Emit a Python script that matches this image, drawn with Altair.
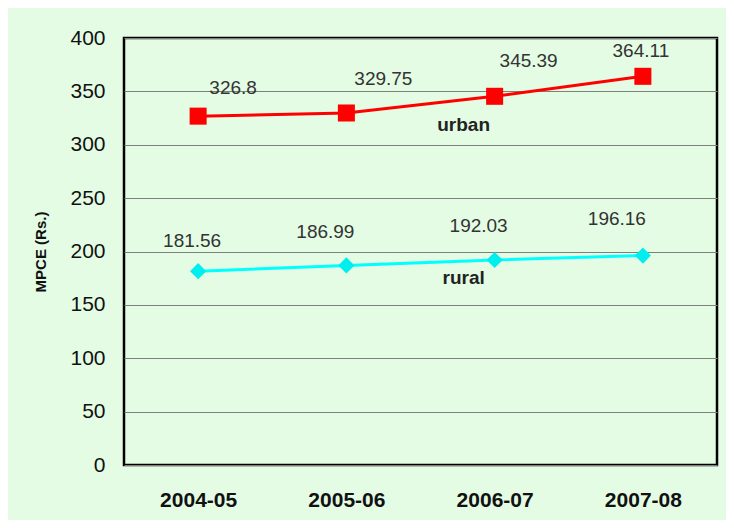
import altair as alt
import pandas as pd

years = ["2004-05", "2005-06", "2006-07", "2007-08"]
urban = [326.8, 329.75, 345.39, 364.11]
rural = [181.56, 186.99, 192.03, 196.16]
urban_labels = ["326.8", "329.75", "345.39", "364.11"]
rural_labels = ["181.56", "186.99", "192.03", "196.16"]

df = pd.DataFrame({
    "year": years * 2,
    "value": urban + rural,
    "label": urban_labels + rural_labels,
    "series": ["urban"] * 4 + ["rural"] * 4,
})

FONT = "Liberation Sans"

x_enc = alt.X("year:N", sort=years,
              scale=alt.Scale(type="point", padding=0.5),
              axis=alt.Axis(title=None, ticks=False, domain=False, grid=False,
                            labelFont=FONT, labelFontSize=21, labelFontWeight="bold",
                            labelColor="#111111", labelPadding=24, labelAngle=0))
y_enc = alt.Y("value:Q",
              scale=alt.Scale(domain=[0, 400], nice=False, zero=True),
              axis=alt.Axis(title="MPCE (Rs.)", values=list(range(0, 401, 50)),
                            ticks=False, domain=False, grid=True,
                            gridColor="#7f7f7f", gridWidth=1,
                            labelFont=FONT, labelFontSize=21, labelColor="#111111",
                            labelPadding=19,
                            titleFont=FONT, titleFontSize=15, titleFontWeight="bold",
                            titleColor="#111111", titlePadding=21))

base = alt.Chart(df).encode(x=x_enc, y=y_enc)

u = base.transform_filter(alt.datum.series == "urban")
r = base.transform_filter(alt.datum.series == "rural")

urban_line = u.mark_line(color="#ff0000", strokeWidth=3)
urban_pts = u.mark_point(shape="square", filled=True, size=290, color="#ff0000", opacity=1)
rural_line = r.mark_line(color="#00ffff", strokeWidth=3)
rural_pts = r.mark_point(shape="diamond", filled=True, size=260, color="#00eeee", opacity=1)

layers = [urban_line, rural_line, urban_pts, rural_pts]

urban_off = [(35, -28), (37, -34), (34, -35), (-2, -25)]
rural_off = [(-6, -30), (-21, -33), (-16, -34), (-26, -37)]
for series, labs, offs in [("urban", urban_labels, urban_off), ("rural", rural_labels, rural_off)]:
    for lab, (dx, dy) in zip(labs, offs):
        layers.append(
            base.transform_filter((alt.datum.series == series) & (alt.datum.label == lab))
            .mark_text(font=FONT, fontSize=19, color="#333333", dx=dx, dy=dy,
                       align="center", baseline="middle")
            .encode(text="label:N")
        )

ann = pd.DataFrame({"year": ["2006-07", "2006-07"], "value": [318.5, 175.2],
                    "name": ["urban", "rural"]})
ann_layer = alt.Chart(ann).mark_text(
    font=FONT, fontSize=19, fontWeight="bold", color="#222222",
    align="center", baseline="middle", dx=-31
).encode(
    x=alt.X("year:N", sort=years, scale=alt.Scale(type="point", padding=0.5)),
    y=alt.Y("value:Q", scale=alt.Scale(domain=[0, 400], nice=False)),
    text="name:N",
)
layers.append(ann_layer)

chart = alt.layer(*layers).properties(
    width=593, height=427,
    autosize=alt.AutoSizeParams(type="none"),
    padding={"left": 116, "top": 30, "right": 9, "bottom": 55},
    background="#e4fce4",
).configure_view(
    stroke="#000000", strokeWidth=2.5, fill="#e4fce4"
)

chart.save("out.html", embed_options={"renderer": "svg", "actions": False})
